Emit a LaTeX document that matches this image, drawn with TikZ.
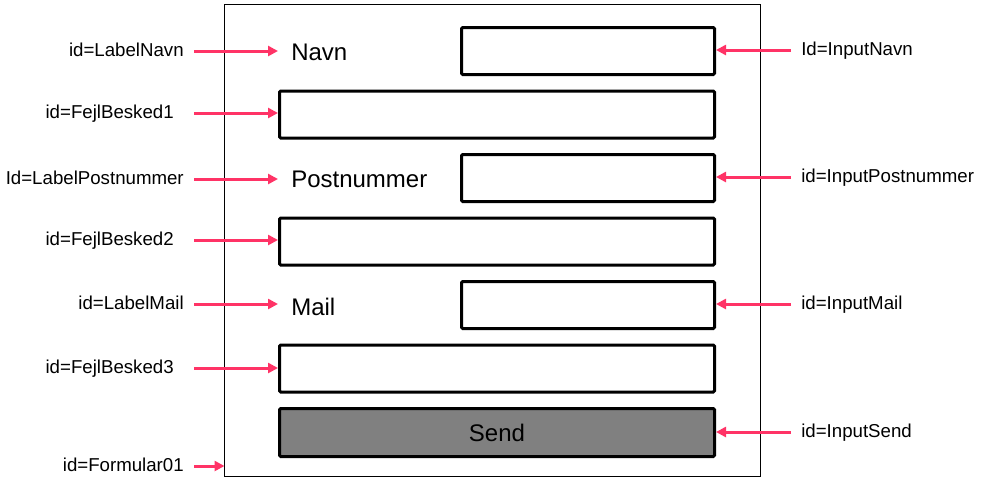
\documentclass[tikz,border=0pt]{standalone}
\usepackage{fontspec}
\setmainfont{Liberation Sans}
\usetikzlibrary{arrows.meta,positioning}
\definecolor{fmPink}{HTML}{FF3366}
\definecolor{fmGray}{HTML}{808080}
\tikzset{
  formbox/.style  ={draw=black,line width=0.75pt,outer sep=0pt,
                    minimum width=402pt,minimum height=354pt},
  fieldbox/.style ={draw=black,line width=2.25pt,rounded corners=1pt,fill=white,
                    inner sep=0pt,minimum height=35.25pt},
  inputbox/.style ={fieldbox,minimum width=189.75pt},
  msgbox/.style   ={fieldbox,minimum width=326.25pt},
  sendbox/.style  ={fieldbox,fill=fmGray,minimum width=326.25pt,minimum height=36pt,
                    font=\fontsize{18pt}{20pt}\selectfont},
  fieldlbl/.style ={anchor=base west,inner xsep=9.75pt,
                    font=\fontsize{18pt}{20pt}\selectfont},
  idtag/.style    ={inner xsep=7.5pt,inner ysep=0pt,text height=10.5pt,text depth=3pt,
                    font=\fontsize{14pt}{16pt}\selectfont},
  msgtag/.style   ={idtag,inner xsep=15pt},
  idarrow/.style  ={-{Triangle[length=7.5pt,width=7.5pt]},fmPink,line width=2.25pt},
}
\begin{document}
\begin{tikzpicture}[x=0.75pt,y=-0.75pt]
\useasboundingbox (0,0) rectangle (992,487);

% form
\node[formbox] (form) at (492.5,240.5) {};

% fields
\node[inputbox] (inNavn) at (588,51)    {};
\node[msgbox]   (fejl1)  at (497,114.5) {};
\node[inputbox] (inPost) at (588,178)   {};
\node[msgbox]   (fejl2)  at (497,241.5) {};
\node[inputbox] (inMail) at (588,305)   {};
\node[msgbox]   (fejl3)  at (497,368.5) {};
\node[sendbox]  (inSend) at (497,432.5) {Send};

% field labels
\node[fieldlbl] (lblNavn) at (278,60)  {Navn};
\node[fieldlbl] (lblPost) at (278,187) {Postnummer};
\node[fieldlbl] (lblMail) at (278,315) {Mail};

% id tags, left side
\node[idtag,anchor=east]  (tLabelNavn) at (194,51)  {id=LabelNavn};
\node[msgtag,anchor=east] (tFejl1)     at (194,113) {id=FejlBesked1};
\node[idtag,anchor=east]  (tLabelPost) at (194,179) {Id=LabelPostnummer};
\node[msgtag,anchor=east] (tFejl2)     at (194,240) {id=FejlBesked2};
\node[idtag,anchor=east]  (tLabelMail) at (194,304) {id=LabelMail};
\node[msgtag,anchor=east] (tFejl3)     at (194,368) {id=FejlBesked3};
\node[idtag,anchor=east]  (tForm)      at (194,466) {id=Formular01};

% id tags, right side
\node[idtag,anchor=west] (tInNavn) at (791,50)  {Id=InputNavn};
\node[idtag,anchor=west] (tInPost) at (791,177) {id=InputPostnummer};
\node[idtag,anchor=west] (tInMail) at (791,304) {id=InputMail};
\node[idtag,anchor=west] (tInSend) at (791,432) {id=InputSend};

\draw[idarrow] (tLabelNavn.east) -- (tLabelNavn.east -| lblNavn.west);
\draw[idarrow] (tFejl1.east)     -- (tFejl1.east -| fejl1.west);
\draw[idarrow] (tLabelPost.east) -- (tLabelPost.east -| lblPost.west);
\draw[idarrow] (tFejl2.east)     -- (tFejl2.east -| fejl2.west);
\draw[idarrow] (tLabelMail.east) -- (tLabelMail.east -| lblMail.west);
\draw[idarrow] (tFejl3.east)     -- (tFejl3.east -| fejl3.west);
\draw[idarrow] (tForm.east)      -- (tForm.east -| form.west);

\draw[idarrow] (tInNavn.west) -- (tInNavn.west -| inNavn.east);
\draw[idarrow] (tInPost.west) -- (tInPost.west -| inPost.east);
\draw[idarrow] (tInMail.west) -- (tInMail.west -| inMail.east);
\draw[idarrow] (tInSend.west) -- (tInSend.west -| inSend.east);
\end{tikzpicture}
\end{document}
